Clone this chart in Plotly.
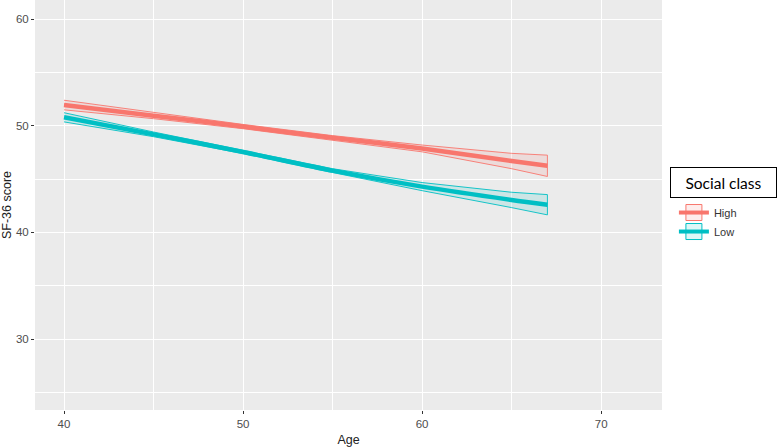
import plotly.graph_objects as go

# Data
age = [40, 45, 50, 55, 60, 65, 67]
groups = ['High', 'Low']
fit_high = [51.95, 50.95, 49.93, 48.88, 47.88, 46.7, 46.25]
half_high = [0.45, 0.28, 0.2, 0.2, 0.32, 0.72, 1.0]
fit_low = [50.8, 49.2, 47.55, 45.8, 44.3, 43.05, 42.6]
half_low = [0.43, 0.22, 0.15, 0.18, 0.38, 0.72, 0.95]

colors = {'High': '#F8766D', 'Low': '#00BFC4'}
fills = {'High': 'rgba(248,118,109,0.13)', 'Low': 'rgba(0,191,196,0.13)'}
fits = {'High': fit_high, 'Low': fit_low}
halves = {'High': half_high, 'Low': half_low}

fig = go.Figure()
for g in groups:
    fit, hw = fits[g], halves[g]
    upper = [f + h for f, h in zip(fit, hw)]
    lower = [f - h for f, h in zip(fit, hw)]
    # confidence band as a closed outlined polygon
    fig.add_trace(go.Scatter(
        x=age + age[::-1], y=upper + lower[::-1],
        mode='lines', fill='toself', fillcolor=fills[g],
        line=dict(color=colors[g], width=0.9),
        showlegend=False, hoverinfo='skip'))
    fig.add_trace(go.Scatter(
        x=age, y=fit, mode='lines',
        line=dict(color=colors[g], width=4.5, shape='spline', smoothing=0.8),
        showlegend=False, name=g))

# legend keys (box + thick line, like ggplot)
for g in groups:
    fig.add_trace(go.Scatter(
        x=[None], y=[None], mode='lines+markers', name=g,
        line=dict(color=colors[g], width=4),
        marker=dict(symbol='square', size=16, color=fills[g],
                    line=dict(color=colors[g], width=1))))

axis_common = dict(
    showline=False, zeroline=False,
    gridcolor='white', gridwidth=1.4,
    ticks='outside', ticklen=3, tickcolor='#333333', tickwidth=1,
    tickfont=dict(size=11.5, color='#4D4D4D'),
    automargin=False,
)

fig.update_xaxes(
    range=[38.38, 73.4], tickvals=[40, 50, 60, 70],
    minor=dict(dtick=5, tick0=35, showgrid=True, gridcolor='white', gridwidth=0.7, ticks=''),
    title=dict(text='Age', font=dict(size=12.5, color='#222222'), standoff=6),
    **axis_common)
fig.update_yaxes(
    range=[23.35, 61.8], tickvals=[30, 40, 50, 60],
    minor=dict(dtick=5, tick0=25, showgrid=True, gridcolor='white', gridwidth=0.7, ticks=''),
    title=dict(text='SF-36 score', font=dict(size=12.5, color='#222222'), standoff=4),
    **axis_common)

fig.add_annotation(
    text='Social class', xref='paper', yref='paper', x=1.098, y=0.556,
    xanchor='center', yanchor='middle',
    showarrow=False, font=dict(family='Lato', size=15.5, color='black'),
    bordercolor='black', borderwidth=1, borderpad=1, width=103, height=27,
    bgcolor='white')

fig.update_layout(
    width=778, height=447,
    margin=dict(l=35, r=116, t=0, b=37),
    plot_bgcolor='#EBEBEB', paper_bgcolor='white',
    font=dict(family='Liberation Sans', color='#333333'),
    legend=dict(x=1.019, y=0.517, xanchor='left', yanchor='top',
                font=dict(size=11, color='#333333'), itemwidth=30,
                bgcolor='rgba(0,0,0,0)'),
)

fig.write_html('out.html', config={'displayModeBar': False},
               post_script="document.body.style.margin='0';")
